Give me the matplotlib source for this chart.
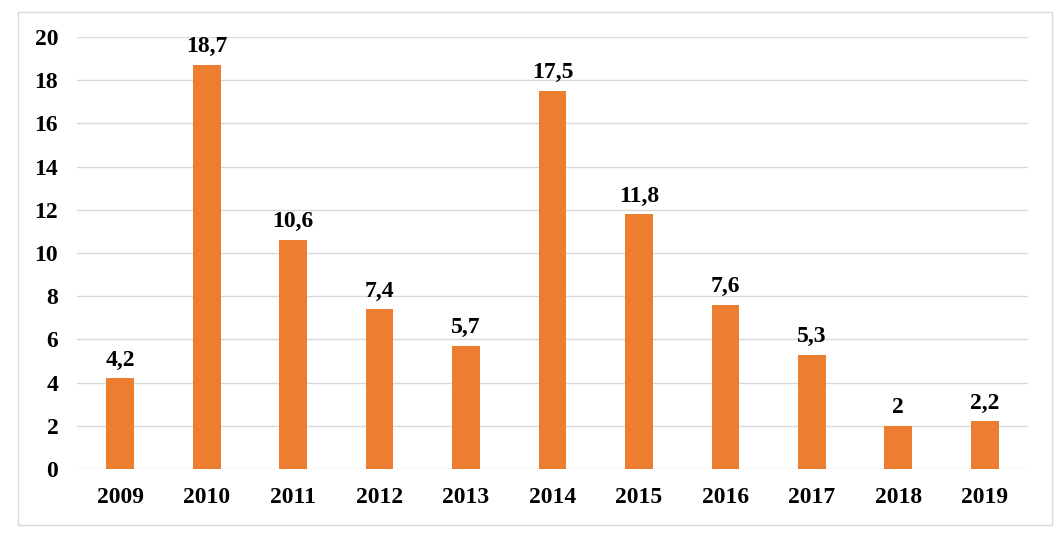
import matplotlib
matplotlib.use("Agg")
import matplotlib.pyplot as plt
from matplotlib.patches import Rectangle

years = ["2009", "2010", "2011", "2012", "2013", "2014", "2015", "2016", "2017", "2018", "2019"]
values = [4.2, 18.7, 10.6, 7.4, 5.7, 17.5, 11.8, 7.6, 5.3, 2.0, 2.2]
labels = ["4,2", "18,7", "10,6", "7,4", "5,7", "17,5", "11,8", "7,6", "5,3", "2", "2,2"]
yticks = [0, 2, 4, 6, 8, 10, 12, 14, 16, 18, 20]

plt.rcParams['font.family'] = ['Liberation Serif', 'DejaVu Serif']
W, H = 1060, 536
FS = 17
fig = plt.figure(figsize=(W / 100, H / 100), dpi=100)
fig.patch.set_facecolor("white")
# outer border
fig.add_artist(Rectangle((18 / W, 1 - 525 / H), (1052 - 18) / W, (525 - 12) / H,
                         transform=fig.transFigure, fill=False, edgecolor="#D9D9D9", linewidth=1))

ax = fig.add_axes([77 / W, 1 - 469 / H, (1028 - 77) / W, (469 - 37) / H])
x = list(range(len(years)))
ax.bar(x, values, width=0.32, color="#ED7D31", zorder=3)
ax.set_xlim(-0.5, len(years) - 0.5)
ax.set_ylim(0, 20)
ax.set_yticks(yticks)
ax.set_yticklabels([str(t) for t in yticks], fontsize=FS, fontweight="bold")
ax.set_xticks(x)
ax.set_xticklabels(years, fontsize=FS, fontweight="bold")
ax.grid(axis="y", color="#D9D9D9", linewidth=1, zorder=0)
for s in ax.spines.values():
    s.set_visible(False)
ax.tick_params(axis="both", length=0)
ax.tick_params(axis="y", pad=13.5)
ax.tick_params(axis="x", pad=13)
for xi, v, lab in zip(x, values, labels):
    ax.annotate(lab, (xi, v), xytext=(0, 5.5), textcoords="offset points",
                ha="center", va="bottom", fontsize=FS, fontweight="bold")

fig.savefig("out.png", dpi=100, facecolor="white")
